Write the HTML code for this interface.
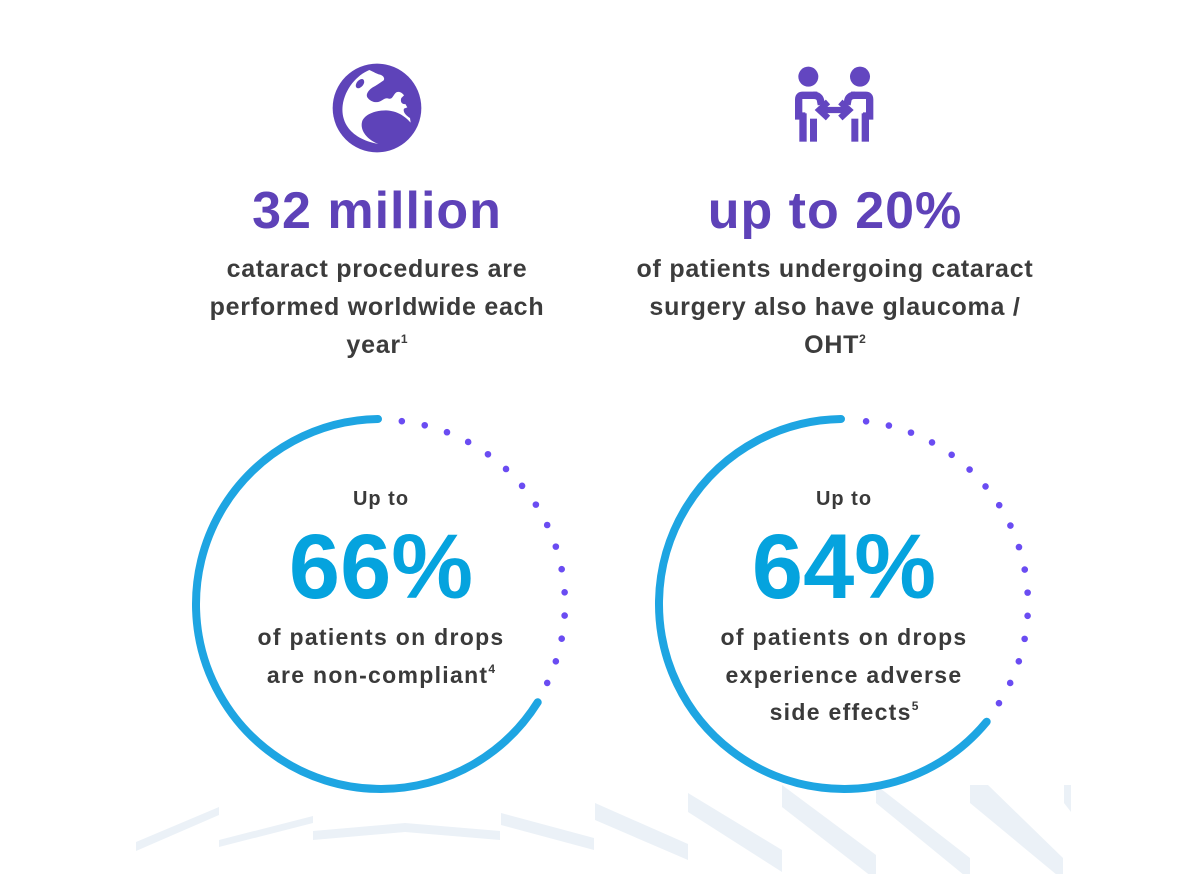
<!DOCTYPE html>
<html>
<head>
<meta charset="utf-8">
<style>
html,body{margin:0;padding:0;background:#ffffff;}
body{width:1200px;height:874px;overflow:hidden;}
svg{display:block;}
text{font-family:"Liberation Sans",Arial,sans-serif;font-weight:bold;}
.h{font-size:52px;fill:#5e42b8;letter-spacing:1px;}
.s{font-size:25px;fill:#3c3c3c;letter-spacing:0.75px;}
.c{font-size:23px;fill:#3a3a3a;letter-spacing:1.3px;}
.u{font-size:20px;fill:#3a3a3a;letter-spacing:1px;}
.big{font-size:92px;fill:#05a3de;letter-spacing:0px;}
.sup{font-size:12px;letter-spacing:0;}
</style>
</head>
<body>
<svg width="1200" height="874" viewBox="0 0 1200 874" xmlns="http://www.w3.org/2000/svg">
  <defs>
    <clipPath id="bc"><rect x="0" y="785" width="1071" height="89"/></clipPath>
  </defs>
  <!-- background bands -->
  <g fill="#ebf1f7">
    <polygon points="136,842 219,807 219,815 136,851"/>
    <polygon points="219,840 313,816 313,823 219,847"/>
    <polygon points="313,831 405,823 500,831 500,840 405,832 313,840"/>
    <polygon points="501,813 594,838 594,850 501,825"/>
    <polygon points="595,803 688,844 688,860 595,820"/>
    <polygon points="688,793 782,850 782,872 688,812"/>
    <g clip-path="url(#bc)">
      <polygon points="782,785 876,855 876,880 782,807"/>
      <polygon points="876,785 970,858 970,880 876,803"/>
      <polygon points="970,785 988,785 1063,858 1063,880 970,803"/>
      <polygon points="1064,785 1071,785 1071,812 1064,803"/>
    </g>
  </g>

  <!-- Globe icon -->
  <svg x="330" y="62" width="94" height="94" viewBox="0 0 282 282">
    <circle cx="141" cy="138" r="133" fill="#5e43b9"/>
    <path fill="#ffffff" d="M 118 24 C 80 40, 45 80, 38 130 C 32 180, 60 230, 145 246 C 110 232, 90 205, 96 180 C 102 158, 135 145, 168 145 C 200 146, 225 162, 242 182 L 240 168 C 228 160, 218 150, 222 140 L 232 136 L 226 126 C 215 128, 210 118, 214 108 L 222 100 C 214 88, 200 86, 194 96 C 188 104, 186 112, 176 110 C 166 106, 160 114, 150 118 C 136 124, 120 118, 112 106 C 106 96, 118 82, 128 76 C 140 70, 150 62, 160 56 C 166 50, 160 40, 150 38 C 140 36, 132 30, 118 24 Z"/>
    <ellipse cx="90" cy="65" rx="10" ry="16" fill="#5e43b9" transform="rotate(40 90 65)"/>
  </svg>

  <!-- People icon -->
  <svg x="780" y="60" width="110" height="90" viewBox="0 0 330 270">
    <g fill="#6346c0" stroke="#6346c0">
      <g>
        <circle cx="85" cy="50" r="30" stroke="none"/>
        <path d="M 112 106 L 68 106 Q 56 106 56 118 L 56 168 L 76 168" fill="none" stroke-width="22"/>
        <rect x="58" y="160" width="22" height="85" stroke="none"/>
        <rect x="90" y="176" width="21" height="69" stroke="none"/>
        <path d="M 100 106 Q 120 106 122 124 L 124 134" fill="none" stroke-width="22"/>
      </g>
      <g transform="translate(325,0) scale(-1,1)">
        <circle cx="85" cy="50" r="30" stroke="none"/>
        <path d="M 112 106 L 68 106 Q 56 106 56 118 L 56 168 L 76 168" fill="none" stroke-width="22"/>
        <rect x="58" y="160" width="22" height="85" stroke="none"/>
        <rect x="90" y="176" width="21" height="69" stroke="none"/>
        <path d="M 100 106 Q 120 106 122 124 L 124 134" fill="none" stroke-width="22"/>
      </g>
      <path d="M 122 150 L 203 150" fill="none" stroke-width="19"/>
      <path d="M 144 126 L 118 150 L 144 174" fill="none" stroke-width="19" stroke-linejoin="miter"/>
      <path d="M 181 126 L 207 150 L 181 174" fill="none" stroke-width="19" stroke-linejoin="miter"/>
    </g>
  </svg>

  <!-- Top left stat -->
  <text class="h" x="377" y="228" text-anchor="middle">32 million</text>
  <text class="s" x="377" y="277" text-anchor="middle">cataract procedures are</text>
  <text class="s" x="377" y="315" text-anchor="middle">performed worldwide each</text>
  <text class="s" x="377" y="353" text-anchor="middle">year<tspan class="sup" dy="-10">1</tspan></text>

  <!-- Top right stat -->
  <text class="h" x="835" y="228" text-anchor="middle">up to 20%</text>
  <text class="s" x="835" y="277" text-anchor="middle">of patients undergoing cataract</text>
  <text class="s" x="835" y="315" text-anchor="middle">surgery also have glaucoma /</text>
  <text class="s" x="835" y="353" text-anchor="middle">OHT<tspan class="sup" dy="-10">2</tspan></text>

  <!-- Circle 1 -->
  <path d="M 537.7 702.3 A 185 185 0 1 1 378 419" fill="none" stroke="#1ea5e2" stroke-width="8" stroke-linecap="round"/>
  <path d="M 401.83 421.18 A 184 184 0 0 1 546.8 683.8" fill="none" stroke="#6a4cf2" stroke-width="6.6" stroke-linecap="round" stroke-dasharray="0 23.31"/>
  <text class="u" x="381" y="505" text-anchor="middle">Up to</text>
  <text class="big" x="381" y="598" text-anchor="middle">66%</text>
  <text class="c" x="381" y="645" text-anchor="middle">of patients on drops</text>
  <text class="c" x="381" y="683" text-anchor="middle">are non-compliant<tspan class="sup" dy="-10">4</tspan></text>

  <!-- Circle 2 -->
  <path d="M 986.7 721.7 A 185 185 0 1 1 841 419" fill="none" stroke="#1ea5e2" stroke-width="8" stroke-linecap="round"/>
  <path d="M 866.1 421.33 A 184 184 0 0 1 998.5 703.9" fill="none" stroke="#6a4cf2" stroke-width="6.6" stroke-linecap="round" stroke-dasharray="0 23.22"/>
  <text class="u" x="844" y="505" text-anchor="middle">Up to</text>
  <text class="big" x="844" y="598" text-anchor="middle">64%</text>
  <text class="c" x="844" y="645" text-anchor="middle">of patients on drops</text>
  <text class="c" x="844" y="683" text-anchor="middle">experience adverse</text>
  <text class="c" x="844" y="720" text-anchor="middle">side effects<tspan class="sup" dy="-10">5</tspan></text>
</svg>
</body>
</html>
